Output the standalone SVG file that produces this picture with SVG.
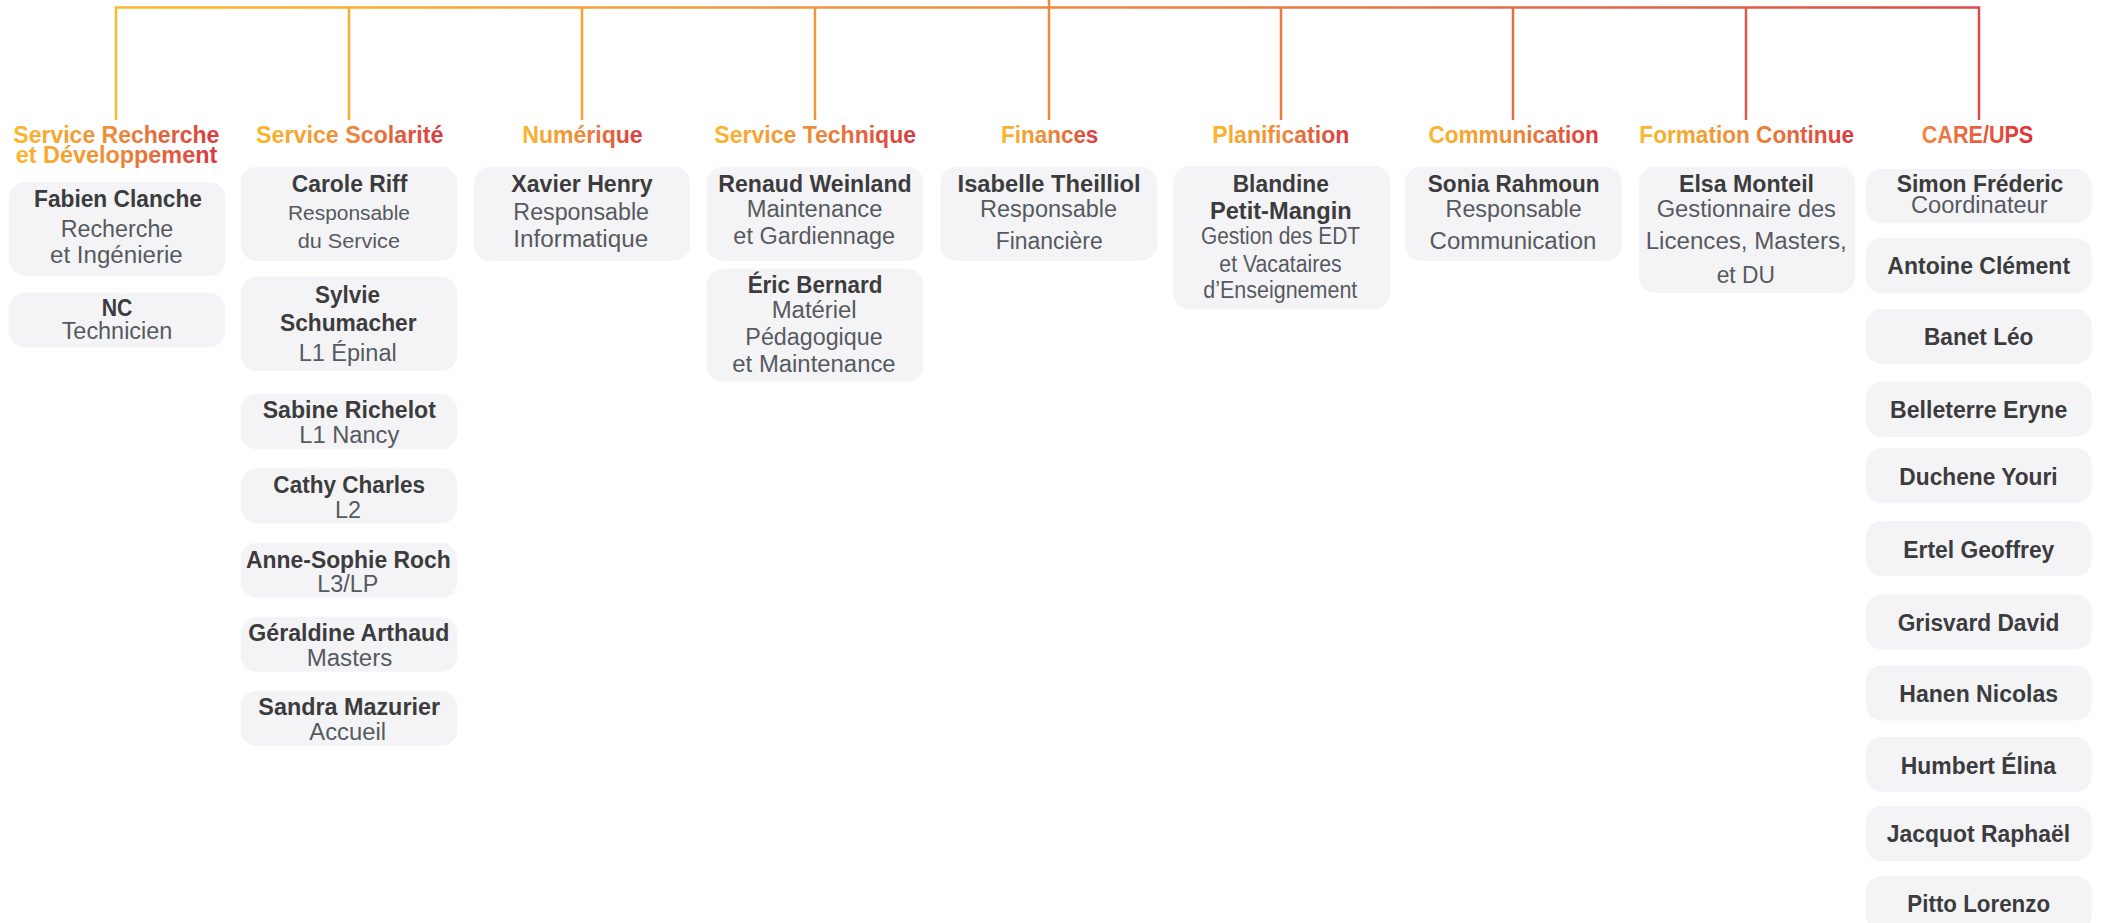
<svg xmlns="http://www.w3.org/2000/svg" width="2103" height="923" viewBox="0 0 2103 923">
<defs>
<linearGradient id="lg" gradientUnits="userSpaceOnUse" x1="116" y1="0" x2="1979" y2="0">
<stop offset="0" stop-color="#FBB92A"/>
<stop offset="0.5" stop-color="#EE8A40"/>
<stop offset="1" stop-color="#DC4A4A"/>
</linearGradient>
<linearGradient id="hg" x1="0" y1="0" x2="1" y2="0">
<stop offset="0" stop-color="#FDB72C"/>
<stop offset="0.5" stop-color="#EC8A3A"/>
<stop offset="1" stop-color="#D8393E"/>
</linearGradient>
<linearGradient id="hg2" x1="0" y1="0" x2="1" y2="0">
<stop offset="0" stop-color="#F28646"/>
<stop offset="0.5" stop-color="#E8603E"/>
<stop offset="1" stop-color="#DE2E33"/>
</linearGradient>
</defs>
<style>
.box{fill:#F4F4F6}
.n{font-family:"Liberation Sans",Arial,sans-serif;font-weight:bold;font-size:23px;fill:#3C3C3E;text-anchor:middle}
.s{font-family:"Liberation Sans",Arial,sans-serif;font-size:23px;fill:#565A60;text-anchor:middle}
.s2{font-family:"Liberation Sans",Arial,sans-serif;font-size:20px;fill:#565A60;text-anchor:middle}
.h{font-family:"Liberation Sans",Arial,sans-serif;font-weight:bold;font-size:24px;fill:url(#hg);text-anchor:middle}
.h2{font-family:"Liberation Sans",Arial,sans-serif;font-weight:bold;font-size:24px;fill:url(#hg2);text-anchor:middle}
.c{fill:none;stroke:url(#lg);stroke-width:2.5}
</style>
<rect width="2103" height="923" fill="#FFFFFF"/>
<g id="connectors">
<path class="c" d="M116,120 V7.5 H1979 V120"/>
<path class="c" d="M1049,0 V120"/>
<path class="c" d="M349,7.5 V120 M582,7.5 V120 M815,7.5 V120 M1281,7.5 V120 M1513,7.5 V120 M1746,7.5 V120"/>
</g>

<g id="h-recherche"><text class="h" x="116.3" y="143.3" textLength="206" lengthAdjust="spacingAndGlyphs">Service Recherche</text><text class="h" x="116.5" y="163.3" textLength="201.6" lengthAdjust="spacingAndGlyphs">et Développement</text></g>
<g id="h-scolarite"><text class="h" x="349.7" y="143.3" textLength="187.3" lengthAdjust="spacingAndGlyphs">Service Scolarité</text></g>
<g id="h-numerique"><text class="h" x="582.5" y="143.3" textLength="120.3" lengthAdjust="spacingAndGlyphs">Numérique</text></g>
<g id="h-technique"><text class="h" x="815.2" y="143.3" textLength="201.7" lengthAdjust="spacingAndGlyphs">Service Technique</text></g>
<g id="h-finances"><text class="h" x="1049.7" y="143.3" textLength="97.3" lengthAdjust="spacingAndGlyphs">Finances</text></g>
<g id="h-planification"><text class="h" x="1280.8" y="143.3" textLength="137" lengthAdjust="spacingAndGlyphs">Planification</text></g>
<g id="h-communication"><text class="h" x="1513.7" y="143.3" textLength="170.4" lengthAdjust="spacingAndGlyphs">Communication</text></g>
<g id="h-formation"><text class="h" x="1746.7" y="143.3" textLength="214.7" lengthAdjust="spacingAndGlyphs">Formation Continue</text></g>
<g id="h-care"><text class="h2" x="1977.5" y="143.3" textLength="111.6" lengthAdjust="spacingAndGlyphs">CARE/UPS</text></g>

<g id="n-fabien"><rect class="box" x="9" y="182.3" width="216.5" height="93.4" rx="16"/>
<text class="n" x="118" y="207.3" textLength="168" lengthAdjust="spacingAndGlyphs">Fabien Clanche</text>
<text class="s" x="117" y="236.7" textLength="112.7" lengthAdjust="spacingAndGlyphs">Recherche</text>
<text class="s" x="116.4" y="263.3" textLength="132.7" lengthAdjust="spacingAndGlyphs">et Ingénierie</text></g>
<g id="n-nc"><rect class="box" x="8.5" y="292.7" width="216.5" height="54.6" rx="16"/>
<text class="n" x="117" y="315.7" textLength="30.7" lengthAdjust="spacingAndGlyphs">NC</text>
<text class="s" x="117" y="339.3" textLength="110.7" lengthAdjust="spacingAndGlyphs">Technicien</text></g>

<g id="n-carole"><rect class="box" x="240.7" y="166.7" width="216.6" height="94" rx="16"/>
<text class="n" x="349.5" y="191.7" textLength="115.7" lengthAdjust="spacingAndGlyphs">Carole Riff</text>
<text class="s2" x="349" y="220" textLength="122" lengthAdjust="spacingAndGlyphs">Responsable</text>
<text class="s2" x="348.8" y="247.7" textLength="102.3" lengthAdjust="spacingAndGlyphs">du Service</text></g>
<g id="n-sylvie"><rect class="box" x="240.7" y="276.7" width="216.6" height="94.3" rx="16"/>
<text class="n" x="347.5" y="303.3" textLength="65" lengthAdjust="spacingAndGlyphs">Sylvie</text>
<text class="n" x="348.3" y="330.7" textLength="136.7" lengthAdjust="spacingAndGlyphs">Schumacher</text>
<text class="s" x="347.7" y="360.7" textLength="98" lengthAdjust="spacingAndGlyphs">L1 Épinal</text></g>
<g id="n-sabine"><rect class="box" x="240.7" y="394" width="216.6" height="55.3" rx="16"/>
<text class="n" x="349.3" y="418.3" textLength="173.3" lengthAdjust="spacingAndGlyphs">Sabine Richelot</text>
<text class="s" x="349.3" y="443.3" textLength="100" lengthAdjust="spacingAndGlyphs">L1 Nancy</text></g>
<g id="n-cathy"><rect class="box" x="240.7" y="468.3" width="216.6" height="55" rx="16"/>
<text class="n" x="349.2" y="493.3" textLength="151.7" lengthAdjust="spacingAndGlyphs">Cathy Charles</text>
<text class="s" x="348" y="518.3" textLength="26" lengthAdjust="spacingAndGlyphs">L2</text></g>
<g id="n-anne"><rect class="box" x="240.7" y="542.7" width="216.6" height="55" rx="16"/>
<text class="n" x="348.4" y="567.7" textLength="204.7" lengthAdjust="spacingAndGlyphs">Anne-Sophie Roch</text>
<text class="s" x="347.8" y="592.3" textLength="61" lengthAdjust="spacingAndGlyphs">L3/LP</text></g>
<g id="n-geraldine"><rect class="box" x="240.7" y="616.7" width="216.6" height="55" rx="16"/>
<text class="n" x="348.8" y="641" textLength="201" lengthAdjust="spacingAndGlyphs">Géraldine Arthaud</text>
<text class="s" x="349.5" y="665.7" textLength="85.7" lengthAdjust="spacingAndGlyphs">Masters</text></g>
<g id="n-sandra"><rect class="box" x="240.7" y="690.7" width="216.6" height="55" rx="16"/>
<text class="n" x="349.2" y="715" textLength="181.7" lengthAdjust="spacingAndGlyphs">Sandra Mazurier</text>
<text class="s" x="347.7" y="740" textLength="76.7" lengthAdjust="spacingAndGlyphs">Accueil</text></g>

<g id="n-xavier"><rect class="box" x="474" y="166.7" width="216" height="94" rx="16"/>
<text class="n" x="582" y="191.7" textLength="141.3" lengthAdjust="spacingAndGlyphs">Xavier Henry</text>
<text class="s" x="581.2" y="220" textLength="135.7" lengthAdjust="spacingAndGlyphs">Responsable</text>
<text class="s" x="580.8" y="246.7" textLength="135" lengthAdjust="spacingAndGlyphs">Informatique</text></g>

<g id="n-renaud"><rect class="box" x="706.7" y="166.7" width="216.6" height="94" rx="16"/>
<text class="n" x="815" y="191.7" textLength="193.3" lengthAdjust="spacingAndGlyphs">Renaud Weinland</text>
<text class="s" x="814.5" y="217.3" textLength="135.7" lengthAdjust="spacingAndGlyphs">Maintenance</text>
<text class="s" x="814.2" y="244.3" textLength="161.7" lengthAdjust="spacingAndGlyphs">et Gardiennage</text></g>
<g id="n-eric"><rect class="box" x="706.7" y="268.7" width="216.6" height="113" rx="16"/>
<text class="n" x="815" y="293.3" textLength="134.7" lengthAdjust="spacingAndGlyphs">Éric Bernard</text>
<text class="s" x="814.2" y="318.3" textLength="85" lengthAdjust="spacingAndGlyphs">Matériel</text>
<text class="s" x="814" y="345" textLength="137.3" lengthAdjust="spacingAndGlyphs">Pédagogique</text>
<text class="s" x="814" y="371.7" textLength="163.3" lengthAdjust="spacingAndGlyphs">et Maintenance</text></g>

<g id="n-isabelle"><rect class="box" x="940.5" y="166.7" width="216.7" height="94" rx="16"/>
<text class="n" x="1049.1" y="191.7" textLength="183" lengthAdjust="spacingAndGlyphs">Isabelle Theilliol</text>
<text class="s" x="1048.6" y="217.3" textLength="137" lengthAdjust="spacingAndGlyphs">Responsable</text>
<text class="s" x="1049.2" y="249.3" textLength="107" lengthAdjust="spacingAndGlyphs">Financière</text></g>

<g id="n-blandine"><rect class="box" x="1173.3" y="166" width="216.7" height="143.3" rx="16"/>
<text class="n" x="1280.8" y="191.7" textLength="96.3" lengthAdjust="spacingAndGlyphs">Blandine</text>
<text class="n" x="1280.8" y="219" textLength="141.7" lengthAdjust="spacingAndGlyphs">Petit-Mangin</text>
<text class="s" x="1280.5" y="244.3" textLength="159" lengthAdjust="spacingAndGlyphs">Gestion des EDT</text>
<text class="s" x="1280.5" y="271.7" textLength="122.3" lengthAdjust="spacingAndGlyphs">et Vacataires</text>
<text class="s" x="1280.3" y="298.3" textLength="154" lengthAdjust="spacingAndGlyphs">d’Enseignement</text></g>

<g id="n-sonia"><rect class="box" x="1405" y="166.7" width="216.7" height="94" rx="16"/>
<text class="n" x="1513.7" y="191.7" textLength="171.8" lengthAdjust="spacingAndGlyphs">Sonia Rahmoun</text>
<text class="s" x="1513.6" y="217.3" textLength="136" lengthAdjust="spacingAndGlyphs">Responsable</text>
<text class="s" x="1513" y="249.3" textLength="166.8" lengthAdjust="spacingAndGlyphs">Communication</text></g>

<g id="n-elsa"><rect class="box" x="1639" y="166.7" width="216" height="126" rx="16"/>
<text class="n" x="1746.5" y="191.7" textLength="135" lengthAdjust="spacingAndGlyphs">Elsa Monteil</text>
<text class="s" x="1746.3" y="217.3" textLength="179.3" lengthAdjust="spacingAndGlyphs">Gestionnaire des</text>
<text class="s" x="1746.2" y="249.3" textLength="201" lengthAdjust="spacingAndGlyphs">Licences, Masters,</text>
<text class="s" x="1745.8" y="282.7" textLength="58.3" lengthAdjust="spacingAndGlyphs">et DU</text></g>

<g id="n-simon"><rect class="box" x="1865.7" y="169" width="226" height="54.3" rx="16"/>
<text class="n" x="1980" y="191.7" textLength="166.7" lengthAdjust="spacingAndGlyphs">Simon Fréderic</text>
<text class="s" x="1979.3" y="213.3" textLength="136.7" lengthAdjust="spacingAndGlyphs">Coordinateur</text></g>
<g id="n-antoine"><rect class="box" x="1865.7" y="238.3" width="226" height="55" rx="16"/>
<text class="n" x="1978.7" y="274.3" textLength="182.7" lengthAdjust="spacingAndGlyphs">Antoine Clément</text></g>
<g id="n-banet"><rect class="box" x="1865.7" y="309" width="226" height="55" rx="16"/>
<text class="n" x="1978.7" y="345" textLength="109.3" lengthAdjust="spacingAndGlyphs">Banet Léo</text></g>
<g id="n-belleterre"><rect class="box" x="1865.7" y="381.7" width="226" height="55" rx="16"/>
<text class="n" x="1978.7" y="418.3" textLength="177.3" lengthAdjust="spacingAndGlyphs">Belleterre Eryne</text></g>
<g id="n-duchene"><rect class="box" x="1865.7" y="448.3" width="226" height="55" rx="16"/>
<text class="n" x="1978.5" y="485" textLength="158.3" lengthAdjust="spacingAndGlyphs">Duchene Youri</text></g>
<g id="n-ertel"><rect class="box" x="1865.7" y="521.3" width="226" height="55" rx="16"/>
<text class="n" x="1978.8" y="558" textLength="151" lengthAdjust="spacingAndGlyphs">Ertel Geoffrey</text></g>
<g id="n-grisvard"><rect class="box" x="1865.7" y="594.5" width="226" height="55" rx="16"/>
<text class="n" x="1978.5" y="631" textLength="161.7" lengthAdjust="spacingAndGlyphs">Grisvard David</text></g>
<g id="n-hanen"><rect class="box" x="1865.7" y="665.5" width="226" height="55" rx="16"/>
<text class="n" x="1978.7" y="702" textLength="158.7" lengthAdjust="spacingAndGlyphs">Hanen Nicolas</text></g>
<g id="n-humbert"><rect class="box" x="1865.7" y="737" width="226" height="55" rx="16"/>
<text class="n" x="1978.4" y="773.5" textLength="155.3" lengthAdjust="spacingAndGlyphs">Humbert Élina</text></g>
<g id="n-jacquot"><rect class="box" x="1865.7" y="806" width="226" height="55" rx="16"/>
<text class="n" x="1978.4" y="842.3" textLength="183.3" lengthAdjust="spacingAndGlyphs">Jacquot Raphaël</text></g>
<g id="n-pitto"><rect class="box" x="1865.7" y="876" width="226" height="55" rx="16"/>
<text class="n" x="1978.7" y="912" textLength="142.7" lengthAdjust="spacingAndGlyphs">Pitto Lorenzo</text></g>
</svg>
